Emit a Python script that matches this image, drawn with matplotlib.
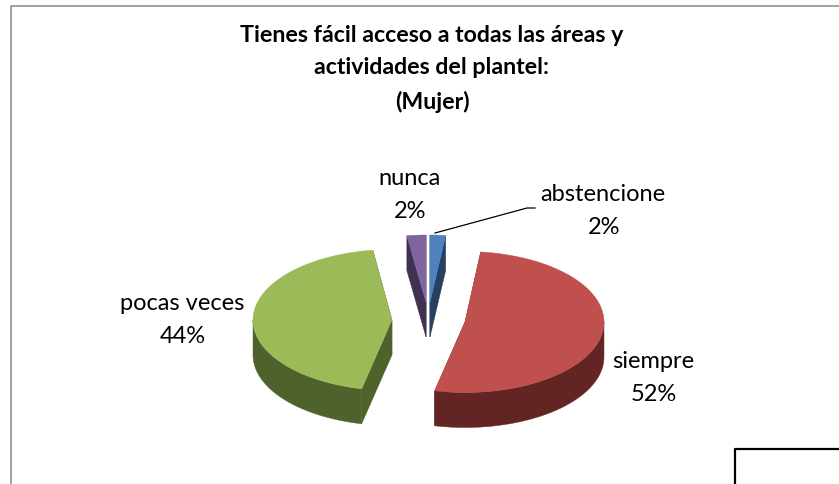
import numpy as np
import matplotlib
matplotlib.use("Agg")
import matplotlib.pyplot as plt
from matplotlib.patches import Polygon

title_lines = ["Tienes fácil acceso a todas las áreas y", "actividades del plantel:", "(Mujer)"]
categories = ["abstencione", "siempre", "pocas veces", "nunca"]
values = [1.8, 51.7, 44.3, 2.2]
percent_labels = ["2%", "52%", "44%", "2%"]

top_colors = ["#4F81BD", "#C0504D", "#9BBB59", "#8064A2"]
side_colors = ["#254061", "#632523", "#4F622B", "#403152"]
centers = [(430, 303), (465, 323), (392, 321), (426, 303)]
label_pos = [(603, 195), (653, 362), (182, 304), (409, 179)]
RX, RY, DEPTH = 139, 70.5, 35
LABEL_SIZE = 17

fig = plt.figure(figsize=(8.39, 4.85), dpi=100, facecolor="white")
ax = fig.add_axes([0, 0, 1, 1])
ax.set_xlim(0, 839)
ax.set_ylim(485, 0)
ax.axis("off")

def pt(c, deg, dz=0, ry=RY):
    t = np.radians(deg)
    return (c[0] + RX * np.sin(t), c[1] - ry * np.cos(t) + dz)

def arc(c, a, b, dz=0, ry=RY):
    ts = np.linspace(a, b, 120)
    return [pt(c, t, dz, ry) for t in ts]

fracs = np.array(values) / sum(values) * 360
starts = np.concatenate([[0], np.cumsum(fracs)[:-1]])

for i in [3, 0, 2, 1]:
    c, a, b = centers[i], starts[i], starts[i] + fracs[i]
    ry = 67 if fracs[i] < 20 else RY
    dark, light = side_colors[i], top_colors[i]
    for ang in (a, b):
        p = pt(c, ang, 0, ry)
        face = [c, p, (p[0], p[1] + DEPTH), (c[0], c[1] + DEPTH)]
        ax.add_patch(Polygon(face, closed=True, fc=dark, ec=dark, lw=0.3, zorder=2))
    lo, hi = max(a, 90), min(b, 270)
    if hi > lo:
        rim = arc(c, lo, hi, 0, ry) + arc(c, hi, lo, DEPTH, ry)
        ax.add_patch(Polygon(rim, closed=True, fc=dark, ec=dark, lw=0.3, zorder=3))
    top = [c] + arc(c, a, b, 0, ry)
    ax.add_patch(Polygon(top, closed=True, fc=light, ec=light, lw=0.3, zorder=4))

font = ["Lato", "DejaVu Sans"]
for (x, y), cat, pct in zip(label_pos, categories, percent_labels):
    ax.text(x, y, cat, ha="center", va="center", fontsize=LABEL_SIZE, family=font, color="black")
    ax.text(x + 1, y + 33, pct, ha="center", va="center", fontsize=LABEL_SIZE, family=font, color="black")

for y, line in zip((35, 67, 102), title_lines):
    ax.text(432, y, line, ha="center", va="center", fontsize=16.7, fontweight="bold", family=font, color="black")

ax.plot([435, 527, 535], [234, 209, 209], color="black", lw=0.9, zorder=5)

ax.plot([10.5, 10.5, 839], [485, 6.5, 6.5], color="#868686", lw=1.1, zorder=1)
ax.plot([735, 735, 839], [485, 450, 450], color="black", lw=1.6, zorder=1)

fig.savefig("out.png", dpi=100)
